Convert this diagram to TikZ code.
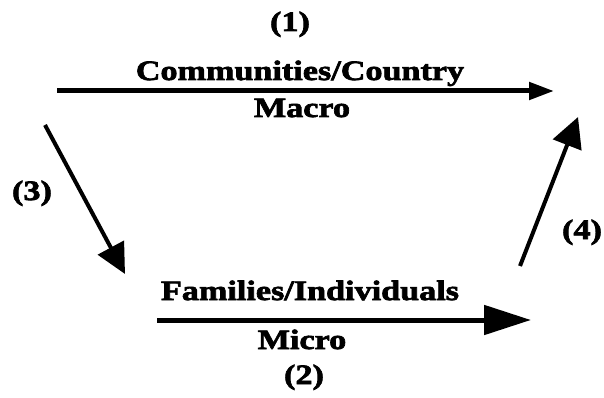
\documentclass[tikz,border=0pt]{standalone}
\usepackage{fontspec}
\usetikzlibrary{arrows.meta}
\newfontfamily\lbl{Liberation Serif}[FakeStretch=1.22,FakeBold=2.5]
\tikzset{
  txt/.style={font=\lbl\bfseries\fontsize{28}{32}\selectfont, inner sep=0pt, anchor=base},
}
\begin{document}
\begin{tikzpicture}[x=1pt,y=-1pt]
\useasboundingbox (0,0) rectangle (604,398);
% texts
\node[txt] (n1) at (290,31) {(1)};
\node[txt] (cc) at (300,80) {Communities/Country};
\node[txt] (macro) at (302,117) {Macro};
\node[txt] (n3) at (32,200) {(3)};
\node[txt] (n4) at (582,239) {(4)};
\node[txt] (fi) at (310,300) {Families/Individuals};
\node[txt] (micro) at (302,349) {Micro};
\node[txt] (n2) at (304,384) {(2)};
% arrow end points
\coordinate (a1s) at (57,91);
\coordinate (a1e) at (554,91);
\coordinate (a3s) at (45,125);
\coordinate (a3e) at (125,274);
\coordinate (a2s) at (157,320);
\coordinate (a2e) at (531,320);
\coordinate (a4s) at (520,266);
\coordinate (a4e) at (578,117);
\draw[line width=5pt, -{Triangle[length=25pt,width=17pt]}] (a1s) -- (a1e);
\draw[line width=4pt, -{Triangle[length=30pt,width=29pt]}] (a3s) -- (a3e);
\draw[line width=5pt, -{Triangle[length=47pt,width=29pt]}] (a2s) -- (a2e);
\draw[line width=4pt, -{Triangle[length=30pt,width=30pt]}] (a4s) -- (a4e);
\end{tikzpicture}
\end{document}
